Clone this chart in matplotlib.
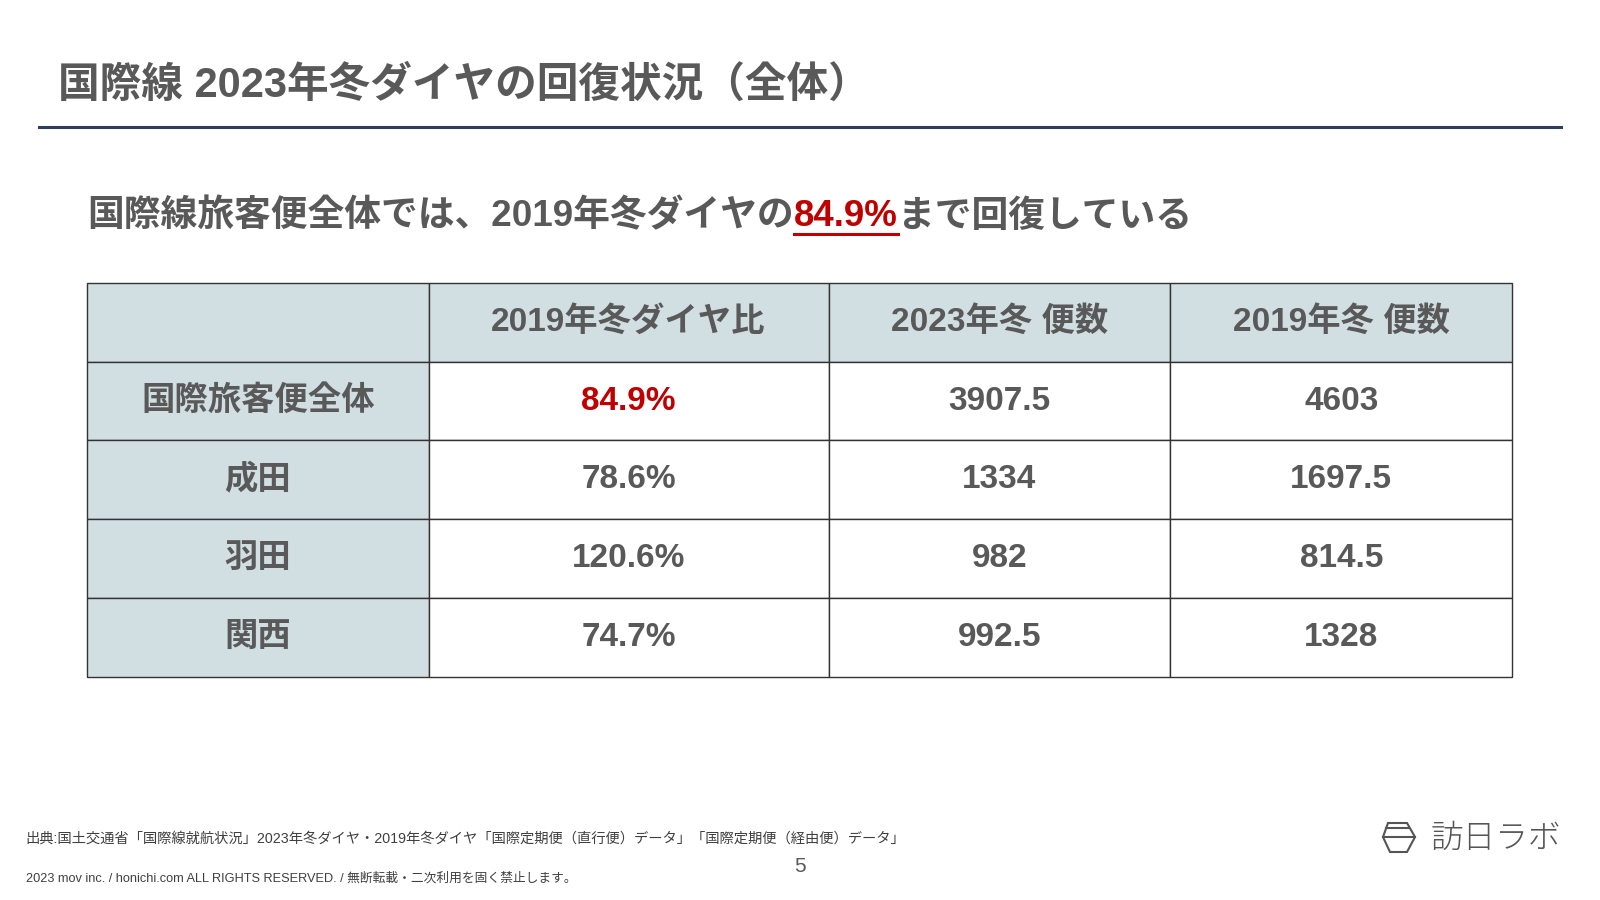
import matplotlib
matplotlib.use('Agg')
import matplotlib.pyplot as plt
from matplotlib.patches import Rectangle, Polygon
from matplotlib.lines import Line2D

plt.rcParams['font.family'] = ['Liberation Sans', 'Noto Sans CJK JP', 'DejaVu Sans']

W, H = 1600, 900

title = '国際線 2023年冬ダイヤの回復状況（全体）'
subtitle_parts = ['国際線旅客便全体では、2019年冬ダイヤの', '84.9%', 'まで回復している']

columns = ['', '2019年冬ダイヤ比', '2023年冬 便数', '2019年冬 便数']
rows = ['国際旅客便全体', '成田', '羽田', '関西']
ratio = [84.9, 78.6, 120.6, 74.7]
flights_2023 = [3907.5, 1334, 982, 992.5]
flights_2019 = [4603, 1697.5, 814.5, 1328]

source = '出典:国土交通省「国際線就航状況」2023年冬ダイヤ・2019年冬ダイヤ「国際定期便（直行便）データ」「国際定期便（経由便）データ」'
copyright = '2023 mov inc. / honichi.com ALL RIGHTS RESERVED. / 無断転載・二次利用を固く禁止します。'

GRAY = '#595959'
RED = '#c00000'
FILL = '#d1dfe3'


def fx(x):
    return x / W


def fy(y):
    return 1 - y / H


fig = plt.figure(figsize=(16, 9), dpi=100)
fig.patch.set_facecolor('white')
renderer = fig.canvas.get_renderer()

# title + rule
fig.text(fx(58), fy(86), title, fontsize=30, fontweight='bold', color=GRAY,
         ha='left', va='center')
fig.add_artist(Line2D([fx(39), fx(1561)], [fy(126.5), fy(126.5)],
                      transform=fig.transFigure, color='#2f3d5c', lw=2.2))

# subtitle, red part underlined
x = 87
for i, part in enumerate(subtitle_parts):
    col = RED if i == 1 else GRAY
    t = fig.text(fx(x), fy(217), part, fontsize=26.5, fontweight='bold',
                 color=col, ha='left', va='center')
    bb = t.get_window_extent(renderer)
    if i == 1:
        fig.add_artist(Line2D([bb.x0 / W, bb.x1 / W], [fy(234), fy(234)],
                              transform=fig.transFigure, color=RED, lw=2.2))
    x = bb.x1

# table
col_w = [341.6, 400, 341.8, 341.6]
left, right, top, bottom = 87, 1512, 283, 676.5
ax = fig.add_axes([fx(left), fy(bottom), fx(right - left), (bottom - top) / H])
ax.set_xlim(0, sum(col_w))
ax.set_ylim(len(rows) + 1, 0)
ax.axis('off')

edges = [0]
for w in col_w:
    edges.append(edges[-1] + w)

cells = [columns]
for r, name in enumerate(rows):
    cells.append([name, f'{ratio[r]:.1f}%', f'{flights_2023[r]:g}', f'{flights_2019[r]:g}'])

for r, line in enumerate(cells):
    for c, txt in enumerate(line):
        fc = FILL if (r == 0 or c == 0) else 'white'
        ax.add_patch(Rectangle((edges[c], r), col_w[c], 1, facecolor=fc,
                               edgecolor='#333333', lw=1.0, clip_on=False))
        color = RED if (r == 1 and c == 1) else GRAY
        ax.text(edges[c] + col_w[c] / 2, r + 0.5, txt, fontsize=24,
                fontweight='bold', color=color, ha='center', va='center')

# footer
fig.text(fx(25.5), fy(839), source, fontsize=10.3, color='#404040',
         ha='left', va='center')
fig.text(fx(25.5), fy(878), copyright, fontsize=9.2, color='#404040',
         ha='left', va='center')
fig.text(fx(800), fy(866), '5', fontsize=15, color=GRAY, ha='center', va='center')

# logo
hexagon = [(1388, 823), (1407, 823), (1415, 837), (1407, 852), (1390, 852), (1383, 837)]
fig.add_artist(Polygon([(fx(a), fy(b)) for a, b in hexagon], closed=True,
                       transform=fig.transFigure, fill=False, edgecolor='#555555', lw=1.5))
fig.add_artist(Line2D([fx(1386), fx(1409)], [fy(828), fy(828)],
                      transform=fig.transFigure, color='#555555', lw=1.5))
fig.add_artist(Line2D([fx(1383), fx(1415)], [fy(837), fy(837)],
                      transform=fig.transFigure, color='#555555', lw=1.5))
fig.text(fx(1431), fy(839), '訪日ラボ', fontsize=23.5, fontweight='light',
         color='#555555', ha='left', va='center', family=['Noto Sans CJK JP'])

fig.savefig('out.png', dpi=100)
